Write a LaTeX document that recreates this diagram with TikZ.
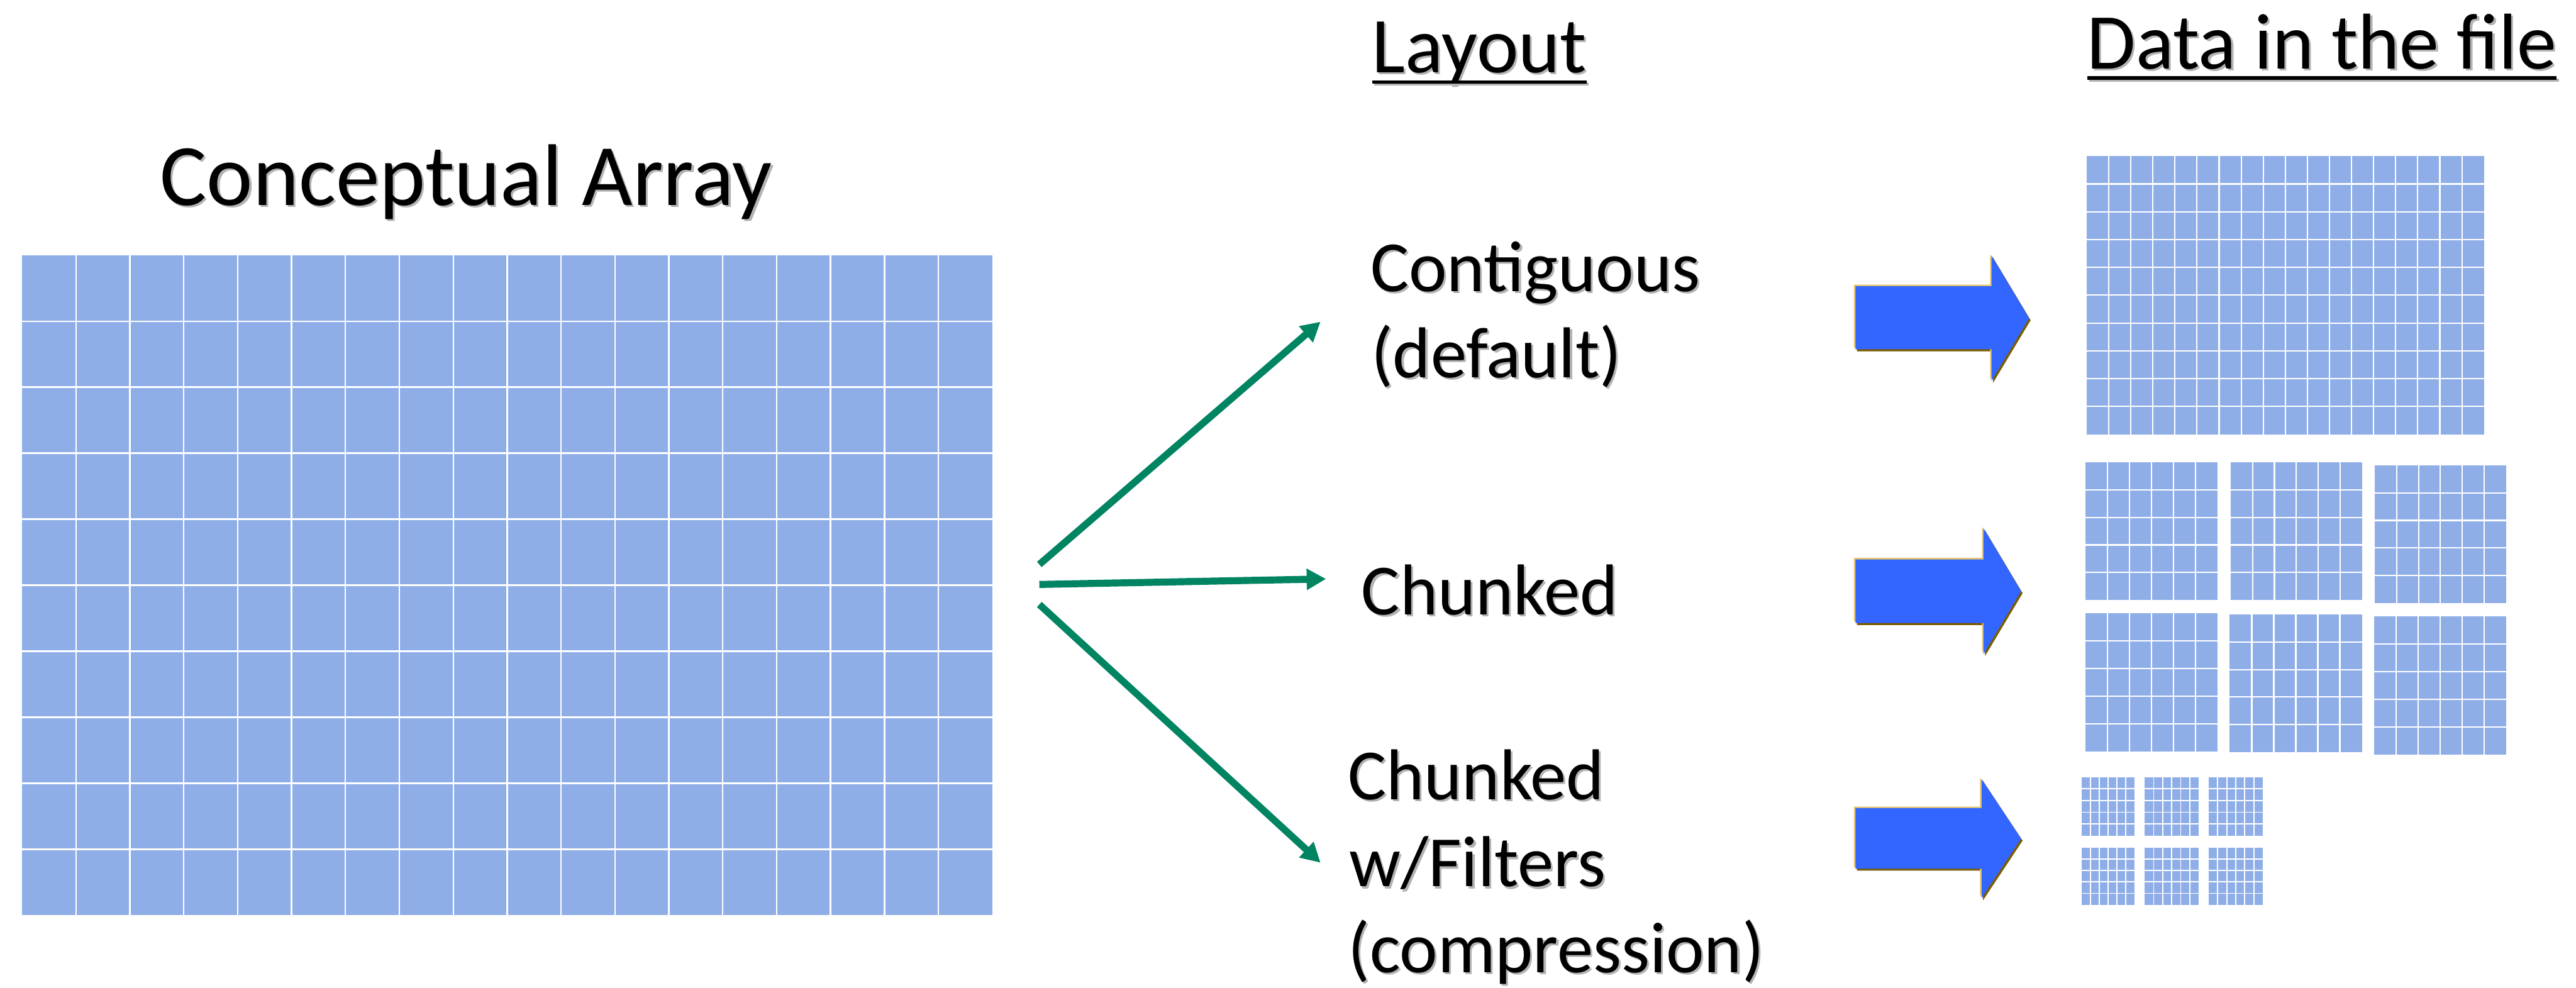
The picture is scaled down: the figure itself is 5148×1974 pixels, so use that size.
\documentclass[tikz,border=0pt]{standalone}
\usepackage{fontspec}
\setmainfont{Carlito}
\usetikzlibrary{arrows.meta}

\definecolor{cellblue}{HTML}{8FAEE8}
\definecolor{arrowblue}{HTML}{3366FF}
\definecolor{flowgreen}{HTML}{008462}
\definecolor{bevlight}{HTML}{E3C46E}
\definecolor{bevdark}{HTML}{7A5C00}
\definecolor{txtshadow}{HTML}{B4B4B4}

\newcommand{\titlefont}{\fontsize{99.6pt}{120pt}\selectfont}
\newcommand{\headfont}{\fontsize{90pt}{108pt}\selectfont}
\newcommand{\labelfont}{\fontsize{82pt}{100pt}\selectfont}

% filled block divided into cols x rows cells by white lines
% #1 x0, #2 y0, #3 x1, #4 y1, #5 cols, #6 rows, #7 line width
\newcommand{\cellgrid}[7]{%
  \fill[cellblue] (#1,#2) rectangle (#3,#4);
  \pgfmathsetmacro{\gdx}{(#3-#1)/#5}%
  \pgfmathsetmacro{\gdy}{(#4-#2)/#6}%
  \pgfmathtruncatemacro{\gcm}{#5-1}%
  \pgfmathtruncatemacro{\grm}{#6-1}%
  \foreach \k in {1,...,\gcm}
    \draw[white, line width=#7] ({#1+\k*\gdx},#2) -- ({#1+\k*\gdx},#4);
  \foreach \k in {1,...,\grm}
    \draw[white, line width=#7] (#1,{#2+\k*\gdy}) -- (#3,{#2+\k*\gdy});
}

% right-pointing block arrow with a bevelled edge
% #1 x0, #2 body top, #3 body bottom, #4 head x, #5 head top, #6 head bottom, #7 tip x
\newcommand{\blockarrow}[7]{%
  \foreach \sx/\sy/\col in {3/4/bevdark, -3/-3/bevlight, 0/0/arrowblue}
    \fill[\col, shift={(\sx,\sy)}]
      (#1,#2) -- (#4,#2) -- (#4,#5) -- (#7,{(#5+#6)/2}) -- (#4,#6)
      -- (#4,#3) -- (#1,#3) -- cycle;
}

% text with a soft grey drop shadow: #1 name, #2 x, #3 y, #4 font, #5 text
\newcommand{\shadowtext}[5]{%
  \node[lbl, text=txtshadow] (#1-sh) at ([shift={(4,4)}]#2,#3) {#4#5};
  \node[lbl] (#1) at (#2,#3) {#4#5};
}

\tikzset{
  lbl/.style={anchor=base west, inner sep=0pt, outer sep=0pt},
  flow/.style={draw=flowgreen, line width=8pt,
    -{Triangle[length=22pt, width=23pt]}},
  uline/.style={line width=3.8pt},
}

\begin{document}
\begin{tikzpicture}[x=0.02cm, y=-0.02cm]
  \fill[white] (0,0) rectangle (5148,1974);
  \useasboundingbox (0,0) rectangle (5148,1974);

  % headings
  \shadowtext{title}{320}{410}{\titlefont}{Conceptual Array}
  \shadowtext{layout}{2742}{145}{\headfont}{Layout}
  \shadowtext{data}{4171}{137}{\headfont}{Data in the file}
  \draw[uline, txtshadow] ([shift={(2.3pt,-13pt)}]layout.base west) -- ([shift={(2.3pt,-13pt)}]layout.base east);
  \draw[uline] ([yshift=-10.8pt]layout.base west) -- ([yshift=-10.8pt]layout.base east);
  \draw[uline, txtshadow] ([shift={(2.3pt,-13pt)}]data.base west) -- ([shift={(2.3pt,-13pt)}]data.base east);
  \draw[uline] ([yshift=-10.8pt]data.base west) -- ([yshift=-10.8pt]data.base east);

  % conceptual array
  \cellgrid{44}{510}{1983}{1829}{18}{10}{1.7pt}

  % layout labels
  \shadowtext{contig}{2739}{582}{\labelfont}{Contiguous}
  \shadowtext{contigb}{2740}{755}{\labelfont}{(default)}
  \shadowtext{chunk}{2721}{1228}{\labelfont}{Chunked}
  \shadowtext{filt}{2694}{1598}{\labelfont}{Chunked}
  \shadowtext{filtb}{2696}{1772}{\labelfont}{w/Filters}
  \shadowtext{filtc}{2694}{1944}{\labelfont}{(compression)}

  % connectors from the array to the layouts
  \coordinate (s1) at (2077,1128);
  \coordinate (e1) at (2639,643);
  \coordinate (s2) at (2077,1168);
  \coordinate (e2) at (2650,1157);
  \coordinate (s3) at (2077,1208);
  \coordinate (e3) at (2639,1724);
  \draw[flow] (s1) -- (e1);
  \draw[flow] (s2) -- (e2);
  \draw[flow] (s3) -- (e3);

  % block arrows
  \blockarrow{3708}{572}{698}{3980}{511}{761}{4055}
  \blockarrow{3708}{1118}{1245}{3964}{1056}{1307}{4039}
  \blockarrow{3708}{1615}{1736}{3960}{1557}{1795}{4039}

  % contiguous storage
  \cellgrid{4170}{312}{4964}{868}{18}{10}{1.5pt}

  % chunked storage
  \cellgrid{4168}{924}{4432}{1199}{6}{5}{1.5pt}
  \cellgrid{4458}{924}{4720}{1199}{6}{5}{1.5pt}
  \cellgrid{4746}{930}{5008}{1205}{6}{5}{1.5pt}
  \cellgrid{4168}{1226}{4432}{1502}{6}{5}{1.5pt}
  \cellgrid{4456}{1228}{4720}{1503}{6}{5}{1.5pt}
  \cellgrid{4744}{1232}{5008}{1508}{6}{5}{1.5pt}

  % compressed chunks
  \cellgrid{4160}{1553}{4266}{1670}{6}{5}{1.3pt}
  \cellgrid{4286}{1553}{4394}{1670}{6}{5}{1.3pt}
  \cellgrid{4414}{1553}{4522}{1670}{6}{5}{1.3pt}
  \cellgrid{4160}{1694}{4266}{1808}{6}{5}{1.3pt}
  \cellgrid{4286}{1694}{4394}{1808}{6}{5}{1.3pt}
  \cellgrid{4414}{1694}{4522}{1808}{6}{5}{1.3pt}
\end{tikzpicture}
\end{document}
